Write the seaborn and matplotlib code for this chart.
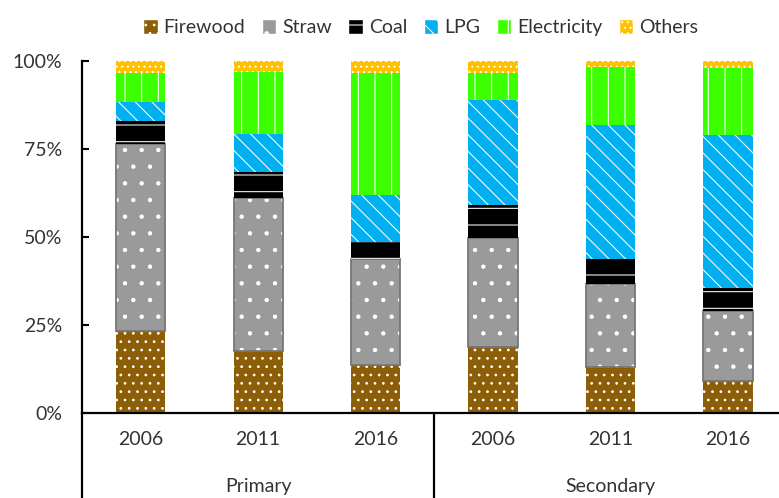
import numpy as np
import pandas as pd
import matplotlib
matplotlib.use('Agg')
import matplotlib.pyplot as plt
from matplotlib.patches import Patch
import seaborn as sns

# data (shares in %)
groups = ['Primary', 'Secondary']
years = ['2006', '2011', '2016', '2006', '2011', '2016']
bar_group = ['Primary'] * 3 + ['Secondary'] * 3

firewood = [23.3, 17.6, 13.6, 18.6, 13.1, 9.0]
straw = [53.2, 43.3, 30.1, 31.0, 23.4, 19.9]
coal = [6.4, 7.6, 4.8, 9.5, 7.2, 6.5]
lpg = [5.4, 10.6, 13.4, 29.9, 38.1, 43.6]
electricity = [8.3, 17.8, 34.7, 7.6, 16.6, 18.9]
others = [3.4, 3.1, 3.4, 3.4, 1.6, 2.1]

fuels = ['Firewood', 'Straw', 'Coal', 'LPG', 'Electricity', 'Others']
colors = ['#8C5E08', '#9A9A9A', '#000000', '#00B0F0', '#3CFF00', '#FFC000']
hatches = ['..', '.', '-', '\\\\', '|', '...']

df = pd.DataFrame({'bar': [g + ' ' + y for g, y in zip(bar_group, years)],
                   'Firewood': firewood, 'Straw': straw, 'Coal': coal,
                   'LPG': lpg, 'Electricity': electricity, 'Others': others})

sns.set_theme(style='white')
plt.rcParams['font.family'] = ['Lato', 'DejaVu Sans']
plt.rcParams['hatch.color'] = 'white'
plt.rcParams['hatch.linewidth'] = 0.75

fig = plt.figure(figsize=(7.79, 4.98), dpi=100)
ax = fig.add_axes([0.1053, 0.1713, 0.9045, 0.7063])

bottom = np.zeros(len(df))
for fuel, c, h in zip(fuels, colors, hatches):
    sns.barplot(data=df, x='bar', y=fuel, bottom=bottom, color=c, saturation=1,
                hatch=h, width=0.42, linewidth=0, ax=ax)
    if fuel == 'Straw':
        # darker outline round the straw segment
        sns.barplot(data=df, x='bar', y=fuel, bottom=bottom, color='#767676',
                    saturation=1, fill=False, linewidth=1.3, width=0.42, ax=ax)
    bottom = bottom + df[fuel].values

ax.set_xlim(-0.5, 5.5)
ax.set_ylim(0, 100)
ax.set_yticks([0, 25, 50, 75, 100])
ax.set_yticklabels(['0%', '25%', '50%', '75%', '100%'])
ax.set_xticks(range(len(years)))
ax.set_xticklabels(years)
ax.set_xlabel('')
ax.set_ylabel('')
ax.tick_params(axis='y', direction='in', length=5, width=1.5, pad=14,
               labelsize=14, labelcolor='#333333', color='black', left=True)
ax.tick_params(axis='x', length=0, pad=13, labelsize=14, labelcolor='#333333')

for s in ['top', 'right']:
    ax.spines[s].set_visible(False)
for s in ['left', 'bottom']:
    ax.spines[s].set_linewidth(1.6)
    ax.spines[s].set_color('black')

# multi-level category axis lines and group labels
tr = ax.get_xaxis_transform()
ax.plot([-0.5, -0.5], [0, -0.3], transform=tr, color='black', lw=1.6, clip_on=False)
ax.plot([2.5, 2.5], [0, -0.3], transform=tr, color='black', lw=1.6, clip_on=False)
for i, g in enumerate(groups):
    ax.text(1 + 3 * i, -0.211, g, transform=tr, ha='center', va='center',
            fontsize=14, color='#333333')

handles = [Patch(facecolor=c, hatch=h, label=f) for f, c, h in zip(fuels, colors, hatches)]
fig.legend(handles=handles, loc='center', bbox_to_anchor=(0.54, 0.944), ncol=6,
           frameon=False, fontsize=14, handlelength=0.75, handleheight=0.75,
           handletextpad=0.3, columnspacing=0.85, labelcolor='#333333')

fig.savefig('out.png', dpi=100)
